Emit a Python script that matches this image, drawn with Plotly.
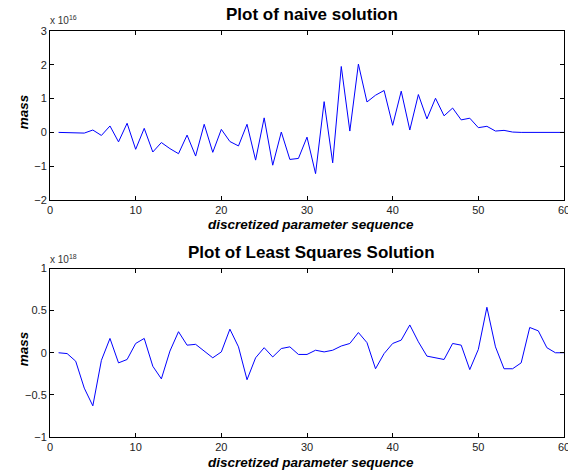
import plotly.graph_objects as go

# x positions (parameter index)
x_index = list(range(1, 61))

# naive solution, units of 1e16
naive_mass = [0, 0, 0, -0.02, 0.07, -0.09, 0.19, -0.28, 0.27, -0.5,
              0.12, -0.58, -0.3, -0.48, -0.63, -0.08, -0.7, 0.24, -0.59, 0.09,
              -0.27, -0.4, 0.24, -0.82, 0.43, -0.97, 0.01, -0.8, -0.77, -0.14,
              -1.22, 0.91, -0.9, 1.95, 0.04, 2.02, 0.9, 1.1, 1.24, 0.21,
              1.22, 0.07, 1.12, 0.4, 1.01, 0.49, 0.72, 0.37, 0.42, 0.14,
              0.18, 0.04, 0.06, 0.01, 0, 0, 0, 0, 0, 0]

# least squares solution, units of 1e18
ls_mass = [0, -0.01, -0.1, -0.42, -0.63, -0.09, 0.17, -0.12, -0.08, 0.11,
           0.17, -0.16, -0.31, 0.02, 0.25, 0.09, 0.1, 0.02, -0.06, 0.01,
           0.28, 0.07, -0.32, -0.06, 0.06, -0.05, 0.05, 0.07, -0.02, -0.02,
           0.03, 0.01, 0.03, 0.08, 0.11, 0.24, 0.12, -0.19, -0.01, 0.11,
           0.15, 0.33, 0.13, -0.04, -0.06, -0.08, 0.11, 0.09, -0.2, 0.04,
           0.54, 0.07, -0.19, -0.19, -0.12, 0.3, 0.26, 0.06, 0, 0]

x_ticks = [0, 10, 20, 30, 40, 50, 60]
naive_yticks = [-2, -1, 0, 1, 2, 3]
ls_yticks = [-1, -0.5, 0, 0.5, 1]

titles = ["Plot of naive solution", "Plot of Least Squares Solution"]
xlabel = "discretized parameter sequence"
ylabel = "mass"
exponents = ["16", "18"]

# page body has an 8px default margin; compensate so the figure fills the window
O = 8
VW, VH = 576, 475
W, H = VW - O, VH - O
# plot area in window pixels
X0, X1 = 50, 570
TOP_Y0, TOP_Y1 = 31, 200
BOT_Y0, BOT_Y1 = 268.5, 437

ML = X0 - O
MR = VW - X1
MT = TOP_Y0 - O
MB = VH - BOT_Y1
PW, PH = W - ML - MR, H - MT - MB


def py(pix):
    # window pixel (from top) -> paper y
    return (VH - MB - pix) / PH


def px(pix):
    return (pix - X0) / PW


fig = go.Figure()
fig.add_trace(go.Scatter(x=x_index, y=naive_mass, mode="lines",
                         line=dict(color="#0000ff", width=1),
                         xaxis="x", yaxis="y", showlegend=False))
fig.add_trace(go.Scatter(x=x_index, y=ls_mass, mode="lines",
                         line=dict(color="#0000ff", width=1),
                         xaxis="x2", yaxis="y2", showlegend=False))

tickfont = dict(family="Arial, Liberation Sans, sans-serif", size=11, color="#222222")
axis_common = dict(showgrid=False, zeroline=False, showline=True, linecolor="black",
                   linewidth=1, mirror="ticks", ticks="inside", ticklen=4,
                   tickcolor="black", tickfont=tickfont, ticklabeloverflow="allow")

fig.update_layout(
    width=W, height=H,
    margin=dict(l=ML, r=MR, t=MT, b=MB),
    paper_bgcolor="white", plot_bgcolor="white",
    xaxis=dict(domain=[0, 1], range=[0, 60], tickvals=x_ticks, anchor="y", **axis_common),
    yaxis=dict(domain=[py(TOP_Y1), 1], range=[-2, 3], tickvals=naive_yticks, anchor="x", **axis_common),
    xaxis2=dict(domain=[0, 1], range=[0, 60], tickvals=x_ticks, anchor="y2", **axis_common),
    yaxis2=dict(domain=[0, py(BOT_Y0)], range=[-1, 1], tickvals=ls_yticks, anchor="x2", **axis_common),
)

tfont = dict(family="Arial, Liberation Sans, sans-serif", size=17, color="black")
lfont = dict(family="Arial, Liberation Sans, sans-serif", size=13.5, color="black")

anns = []
for title, yc in zip(titles, [14.5, 252]):
    anns.append(dict(text="<b>" + title + "</b>", x=px(315), y=py(yc), xref="paper", yref="paper",
                     showarrow=False, font=tfont, xanchor="center", yanchor="middle"))
for yc in [224, 462]:
    anns.append(dict(text="<b><i>" + xlabel + "</i></b>", x=px(314), y=py(yc), xref="paper", yref="paper",
                     showarrow=False, font=lfont, xanchor="center", yanchor="middle"))
for yc in [112, 349]:
    anns.append(dict(text="<b><i>" + ylabel + "</i></b>", x=px(23), y=py(yc), xref="paper", yref="paper",
                     showarrow=False, font=lfont, xanchor="center", yanchor="middle", textangle=-90))
for e, yc in zip(exponents, [20, 259]):
    anns.append(dict(text="x 10<sup>" + e + "</sup>", x=px(48), y=py(yc), xref="paper", yref="paper",
                     showarrow=False, font=dict(family="Arial, Liberation Sans, sans-serif", size=10, color="#333333"),
                     xanchor="left", yanchor="middle"))
fig.update_layout(annotations=anns)

fig.write_html("out.html")
